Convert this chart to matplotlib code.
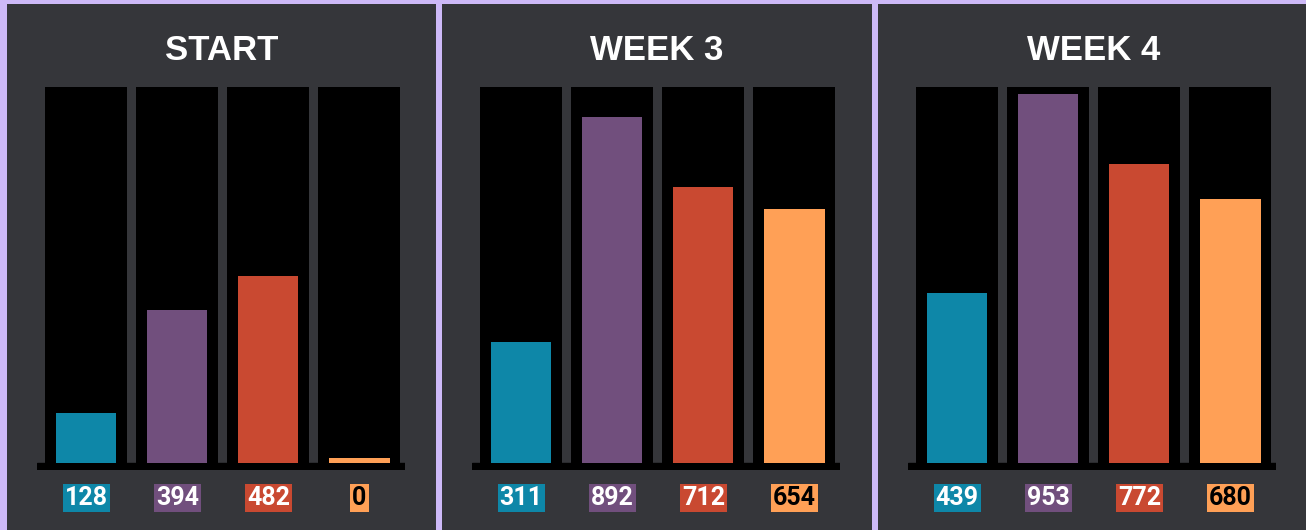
import matplotlib
matplotlib.use("Agg")
import matplotlib.pyplot as plt
from matplotlib.patches import Rectangle

# ---- data ----
panels = ["START", "WEEK 3", "WEEK 4"]
start_values = [128, 394, 482, 0]
week3_values = [311, 892, 712, 654]
week4_values = [439, 953, 772, 680]
series_colors = ["#0e87a8", "#714f7d", "#c94931", "#ffa056"]
label_text_colors = ["white", "white", "white", "black"]

all_values = [start_values, week3_values, week4_values]

W, H = 1306, 530
fig = plt.figure(figsize=(W / 100, H / 100), dpi=100)
fig.patch.set_facecolor("#cdb9f7")

BG = "#35363a"
panel_x = [(7, 436), (442, 872), (878, 1310)]
axes_left = [37, 472, 908]
ymax = 970
base_thick = 18
min_vis = 14

for p, (title, vals) in enumerate(zip(panels, all_values)):
    x0, x1 = panel_x[p]
    fig.patches.append(Rectangle((x0 / W, 0), (x1 - x0) / W, (H - 4) / H,
                                 transform=fig.transFigure, facecolor=BG,
                                 edgecolor="none", zorder=-5))
    fig.text((x0 + x1) / 2 / W, 1 - 50 / H, title, ha="center", va="center",
             color="white", fontsize=25, fontweight="bold",
             family="Liberation Sans")

    ax = fig.add_axes([axes_left[p] / W, (H - 470) / H, 368 / W, (470 - 87) / H])
    ax.set_zorder(2)
    ax.set_xlim(-0.54, 3.50)
    ax.set_ylim(-base_thick, ymax)
    ax.axis("off")
    xs = list(range(len(vals)))
    ax.bar(xs, [ymax] * len(vals), width=0.9, color="black", zorder=1)
    ax.axhspan(-base_thick, 0, color="black", zorder=1)
    shown = [max(v, min_vis) for v in vals]
    ax.bar(xs, shown, width=0.66, color=series_colors, zorder=2)
    for i, v in enumerate(vals):
        ax.text(i, -90, str(v), ha="center", va="center",
                color=label_text_colors[i], fontsize=18, fontweight="bold",
                family="Roboto", clip_on=False,
                bbox=dict(boxstyle="square,pad=0.08", facecolor=series_colors[i],
                          edgecolor="none"))

fig.savefig("out.png", dpi=100, facecolor=fig.get_facecolor())
